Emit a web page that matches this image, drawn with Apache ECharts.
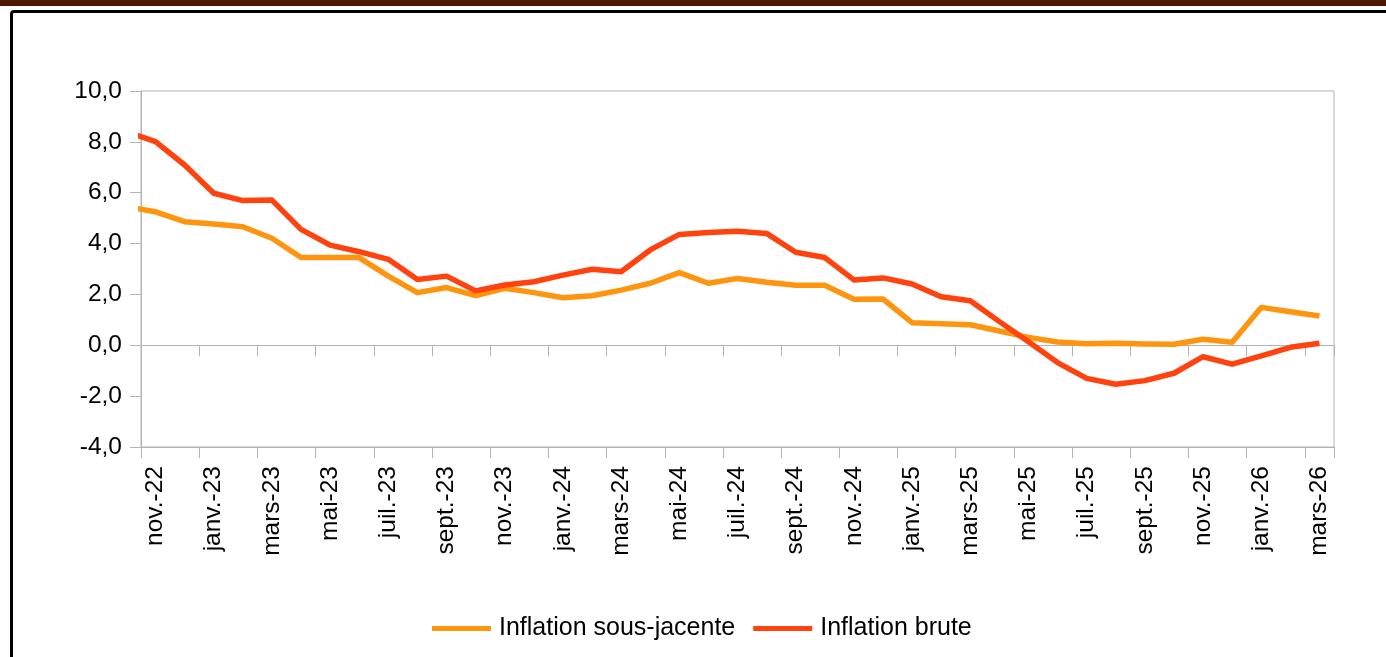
<!DOCTYPE html>
<html>
<head>
<meta charset="utf-8">
<script src="https://cdn.jsdelivr.net/npm/echarts@6/dist/echarts.min.js"></script>
<style>
  html, body { margin: 0; padding: 0; background: #fff; overflow: hidden; }
  #band { position: absolute; left: 0; top: 0; width: 1386px; height: 6px; background: #4a1a00; }
  #frame { position: absolute; left: 10px; top: 10px; width: 1420px; height: 700px;
           border: 3px solid #000; border-radius: 4px; }
  #chart { position: absolute; left: 0; top: 0; width: 1386px; height: 657px; }
</style>
</head>
<body>
<div id="band"></div>
<div id="frame"></div>
<div id="chart"></div>
<script>
// mois (oct.-22 sert seulement au début de la courbe, coupé par l'axe)
const months = [
  'oct.-22', 'nov.-22', 'déc.-22',
  'janv.-23', 'févr.-23', 'mars-23', 'avr.-23', 'mai-23', 'juin-23',
  'juil.-23', 'août-23', 'sept.-23', 'oct.-23', 'nov.-23', 'déc.-23',
  'janv.-24', 'févr.-24', 'mars-24', 'avr.-24', 'mai-24', 'juin-24',
  'juil.-24', 'août-24', 'sept.-24', 'oct.-24', 'nov.-24', 'déc.-24',
  'janv.-25', 'févr.-25', 'mars-25', 'avr.-25', 'mai-25', 'juin-25',
  'juil.-25', 'août-25', 'sept.-25', 'oct.-25', 'nov.-25', 'déc.-25',
  'janv.-26', 'févr.-26', 'mars-26'
]

const sousJacente = [
  5.45, 5.25, 4.86,
  4.77, 4.66, 4.21, 3.45, 3.45, 3.45,
  2.72, 2.07, 2.27, 1.95, 2.24, 2.07,
  1.87, 1.95, 2.17, 2.44, 2.86, 2.44,
  2.63, 2.48, 2.36, 2.36, 1.81, 1.82,
  0.89, 0.85, 0.81, 0.56, 0.31, 0.13,
  0.06, 0.08, 0.05, 0.04, 0.24, 0.12,
  1.49, 1.32, 1.15
]

const brute = [
  8.4, 8.01, 7.09,
  5.98, 5.69, 5.71, 4.56, 3.94, 3.68,
  3.38, 2.59, 2.72, 2.14, 2.37, 2.50,
  2.76, 2.99, 2.89, 3.75, 4.36, 4.44,
  4.48, 4.40, 3.66, 3.45, 2.57, 2.65,
  2.41, 1.91, 1.75, 0.93, 0.14, -0.68,
  -1.30, -1.53, -1.39, -1.10, -0.45, -0.74,
  -0.42, -0.08, 0.08
]

const yTicks = { min: -4, max: 10, interval: 2 }

const chart = echarts.init(document.getElementById('chart'))
const grey = '#b3b3b3'
const font = 'Liberation Sans, Arial, sans-serif'
const everyOther = function(idx) { return idx % 2 === 1 }

chart.setOption({
  animation: false,
  textStyle: { fontFamily: font },
  grid: {
    left: 141,
    right: 52,
    top: 91,
    bottom: 210,
    show: true,
    borderColor: grey,
    borderWidth: 1,
    containLabel: false
  },
  legend: {
    left: 432,
    top: 616,
    padding: 0,
    itemGap: 18,
    itemWidth: 59,
    itemHeight: 5,
    icon: 'rect',
    textStyle: { fontSize: 25, color: '#000', fontFamily: font, padding: [0, 0, 0, 3] },
    data: ['Inflation sous-jacente', 'Inflation brute']
  },
  xAxis: [
    {
      // axe sur la ligne du zéro
      type: 'category',
      data: months,
      min: 1,
      boundaryGap: true,
      axisLine: { onZero: true, lineStyle: { color: grey, width: 1 } },
      axisTick: { show: true, interval: everyOther, length: 11, lineStyle: { color: grey } },
      axisLabel: { show: false },
      splitLine: { show: false }
    },
    {
      // axe du bas, avec les libellés
      type: 'category',
      data: months,
      min: 1,
      position: 'bottom',
      boundaryGap: true,
      axisLine: { onZero: false, lineStyle: { color: grey, width: 1 } },
      axisTick: { show: true, interval: everyOther, length: 11, lineStyle: { color: grey } },
      axisLabel: {
        interval: everyOther,
        rotate: 90,
        margin: 19,
        fontSize: 24.5,
        color: '#000',
        fontFamily: font
      },
      splitLine: { show: false }
    }
  ],
  yAxis: {
    type: 'value',
    min: yTicks.min,
    max: yTicks.max,
    interval: yTicks.interval,
    axisLine: { show: true, lineStyle: { color: grey, width: 1 } },
    axisTick: { show: true, length: 11, lineStyle: { color: grey } },
    splitLine: { show: false },
    axisLabel: {
      margin: 19,
      fontSize: 24.5,
      color: '#000',
      fontFamily: font,
      formatter: function(v) { return v.toFixed(1).replace('.', ',') }
    }
  },
  series: [
    {
      name: 'Inflation sous-jacente',
      type: 'line',
      xAxisIndex: 0,
      data: sousJacente,
      showSymbol: false,
      symbol: 'none',
      clip: true,
      itemStyle: { color: '#ff950e' },
      lineStyle: { color: '#ff950e', width: 5.5, join: 'round' }
    },
    {
      name: 'Inflation brute',
      type: 'line',
      xAxisIndex: 0,
      data: brute,
      showSymbol: false,
      symbol: 'none',
      clip: true,
      itemStyle: { color: '#ff420e' },
      lineStyle: { color: '#ff420e', width: 5.5, join: 'round' }
    }
  ]
})
</script>
</body>
</html>
